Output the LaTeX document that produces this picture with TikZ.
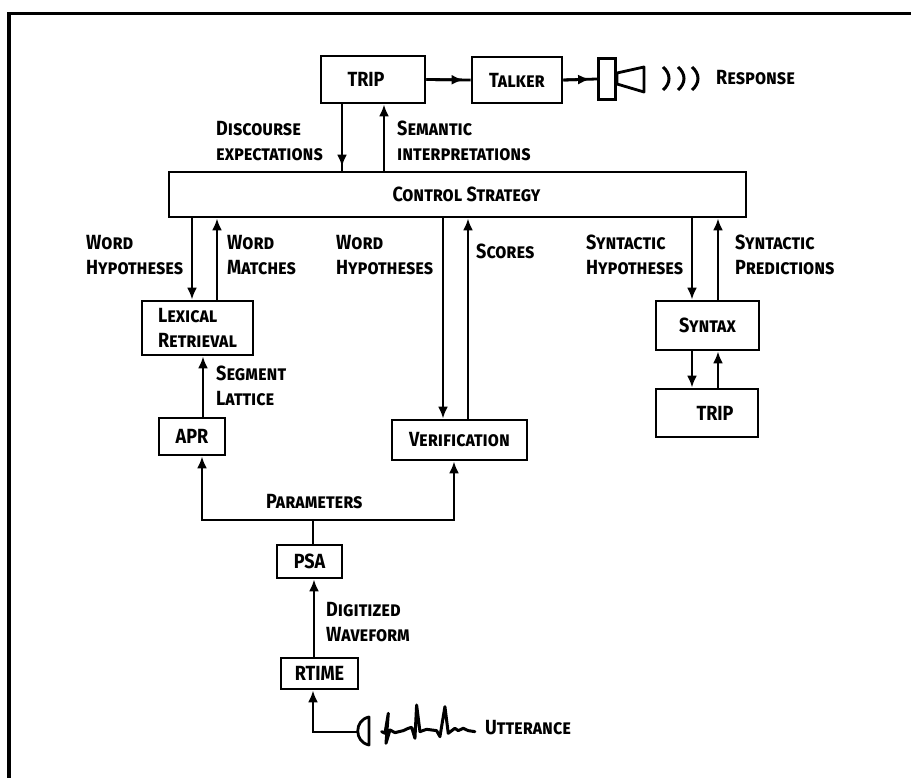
\documentclass[tikz,border=0pt]{standalone}
\usepackage{fontspec}
\setmainfont{Fira Sans}[UprightFont=* Bold,BoldFont=* Bold,Letters=SmallCaps,FakeStretch=0.88]
\usetikzlibrary{arrows.meta}
\tikzset{
  box/.style={draw,line width=2.8pt,inner sep=0pt,font=\fontsize{20.5}{25}\selectfont},
  lab/.style={anchor=west,align=left,inner sep=0pt,font=\fontsize{20.5}{24.5}\selectfont},
  arr/.style={line width=2.8pt,-{Latex[length=12pt,width=10pt]}},
  wire/.style={line width=2.8pt},
  frame/.style={line width=3.8pt}
}
\begin{document}
\begin{tikzpicture}[x=1pt,y=-1pt]
        \useasboundingbox (0,0) rectangle (911,778);
        \draw[frame] (9,778) -- (9,13.5) -- (911,13.5);

        % Top row
        \node[box, minimum width=104pt, minimum height=47pt] (tripa) at (373,79.5) {TRIP\hspace*{14pt}};
        \node[box, minimum width=90pt, minimum height=46pt] (talker) at (517,80) {Talker};
        \node[box, minimum width=17pt, minimum height=41pt] (horn) at (607,79) {};
        \coordinate (hornjoin) at (617,78.5);

        % Control
        \node[box, minimum width=577pt, minimum height=45pt] (ctrl) at (457.5,194.5) {\hspace*{18pt}Control Strategy};

        % Knowledge sources
        \node[box, minimum width=111pt, minimum height=54pt, align=left] (lex) at (197.5,328) {Lexical\\Retrieval};
        \node[box, minimum width=66pt, minimum height=37pt] (apr) at (192,436.5) {APR};
        \node[box, minimum width=135pt, minimum height=40pt] (verif) at (459.5,440) {Verification};
        \node[box, minimum width=103pt, minimum height=49pt] (syntax) at (707.5,325.5) {Syntax};
        \node[box, minimum width=102pt, minimum height=48pt] (tripb) at (707,413) {\hspace*{16pt}TRIP};

        % Signal chain
        \node[box, minimum width=65pt, minimum height=33pt] (psa) at (309.5,561.5) {PSA};
        \node[box, minimum width=77pt, minimum height=31pt] (rtime) at (319.5,673.5) {RTIME};
        \coordinate (micin) at (358,732);

        % Arrow columns
        \coordinate (cola) at (342,0);
        \coordinate (colb) at (384,0);
        \coordinate (colc) at (192,0);
        \coordinate (cold) at (217,0);
        \coordinate (cole) at (443,0);
        \coordinate (colf) at (468,0);
        \coordinate (colg) at (692,0);
        \coordinate (colh) at (718,0);
        \coordinate (coli) at (203,0);
        \coordinate (colj) at (202,0);
        \coordinate (colk) at (454,0);
        \coordinate (coll) at (313,0);
        \coordinate (colm) at (314,0);
        \coordinate (busy) at (0,520);

        % Top connections
        \draw[wire] (tripa.south -| cola) -- (ctrl.north -| cola);
        \draw[arr, shorten >=4pt] (tripa.south -| cola) -- (ctrl.north -| cola);
        \draw[arr] (ctrl.north -| colb) -- (tripa.south -| colb);
        \draw[wire] (tripa.east) -- (talker.west);
        \draw[arr, shorten >=7pt] (tripa.east) -- (talker.west);
        \draw[wire] (talker.east) -- (horn.west);
        \draw[arr, shorten >=7pt] (talker.east) -- (horn.west);

        % Control to sources
        \draw[arr] (ctrl.south -| colc) -- (lex.north -| colc);
        \draw[arr] (lex.north -| cold) -- (ctrl.south -| cold);
        \draw[arr] (ctrl.south -| cole) -- (verif.north -| cole);
        \draw[arr] (verif.north -| colf) -- (ctrl.south -| colf);
        \draw[arr] (ctrl.south -| colg) -- (syntax.north -| colg);
        \draw[arr] (syntax.north -| colh) -- (ctrl.south -| colh);
        \draw[arr] (syntax.south -| colg) -- (tripb.north -| colg);
        \draw[arr] (tripb.north -| colh) -- (syntax.south -| colh);

        % Parameters bus
        \draw[arr] (apr.north -| coli) -- (lex.south -| coli);
        \draw[arr] (busy -| colj) -- (apr.south -| colj);
        \draw[arr] (busy -| colk) -- (verif.south -| colk);
        \draw[wire, line cap=rect] (busy -| colj) -- (busy -| colk);
        \draw[wire] (psa.north -| coll) -- (busy -| coll);
        \draw[arr] (rtime.north -| colm) -- (psa.south -| colm);
        \draw[arr] (micin) -- (micin -| coll) -- (rtime.south -| coll);

        % Speaker
        \draw[wire, line join=round] (hornjoin) -- (617,73) -- (644,67) -- (644,92) -- (617,84) -- cycle;
        \foreach \i in {663,678,692} {
            \draw[line width=3pt] (\i,67) .. controls (\i+8,74) and (\i+8,83) .. (\i,90);
        }

        % Microphone and waveform
        \draw[wire, line join=round] (369,717) .. controls (354,720) and (354,742) .. (369,745) -- cycle;
        \begin{scope}[shift={(370,700)},x=0.333pt,y=-0.333pt]
            \draw[line width=3pt, line join=round, line cap=round] (35,95) -- (45,100) -- (55,40) -- (48,130) -- (60,90) -- (75,98) -- (100,92) -- (115,85) -- (125,82) -- (135,115) -- (140,15) -- (150,95) -- (170,88) -- (200,92) -- (210,110) -- (225,20) -- (235,100) -- (255,85) -- (265,92) -- (280,85) -- (295,92) -- (315,95);
        \end{scope}

        % Labels
        \node[lab] (resp) at (716,78) {Response};
        \node[lab] (disc) at (216,141) {Discourse\\expectations};
        \node[lab] (sem) at (397,141) {Semantic\\interpretations};
        \node[lab] (wha) at (86,255) {Word\\Hypotheses};
        \node[lab] (wm) at (227,255) {Word\\Matches};
        \node[lab] (whb) at (336,255) {Word\\Hypotheses};
        \node[lab] (scores) at (476,251) {Scores};
        \node[lab] (sh) at (586,255) {Syntactic\\Hypotheses};
        \node[lab] (sp) at (735,255) {Syntactic\\Predictions};
        \node[lab] (seg) at (216,386) {Segment\\Lattice};
        \node[lab] (par) at (266,502) {Parameters};
        \node[lab] (dig) at (326,622) {Digitized\\Waveform};
        \node[lab] (utt) at (485,728) {Utterance};
\end{tikzpicture}
\end{document}
